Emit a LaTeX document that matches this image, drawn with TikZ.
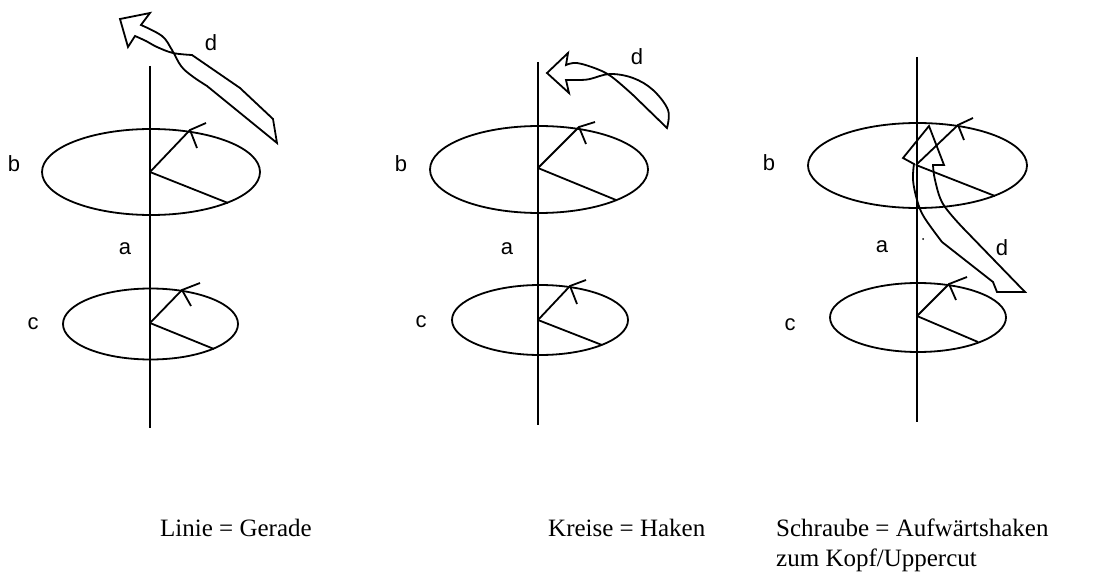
\documentclass[tikz,border=0pt]{standalone}
\usepackage{fontspec}
\setmainfont{Liberation Serif}
\newfontfamily\labelfont{Liberation Sans}
\begin{document}
\begin{tikzpicture}[x=1pt,y=-1pt,
  stroke/.style={line width=1.8pt,line join=miter},
  lbl/.style={font=\labelfont\fontsize{22}{26}\selectfont,inner sep=0pt},
  captext/.style={font=\fontsize{25}{31}\selectfont,inner sep=0pt,anchor=base west}]
\useasboundingbox (0,0) rectangle (1116,572);

% ---------------- Panel 1 ----------------
\coordinate (p1top) at (150,66);
\coordinate (p1bot) at (150,428);
\draw[stroke] (p1top) -- (p1bot);
\draw[stroke] (151,172) ellipse [x radius=109, y radius=43];
\coordinate (p1bc) at (150,172);
\coordinate (p1bu) at (190,130);
\draw[stroke] (p1bc) -- (p1bu) -- (206,123);
\draw[stroke] (p1bu) -- (197,148);
\draw[stroke] (p1bc) -- (228,203);
\draw[stroke] (150.5,324) ellipse [x radius=87.5, y radius=35.5];
\coordinate (p1cc) at (150,323);
\coordinate (p1cu) at (182,290);
\draw[stroke] (p1cc) -- (p1cu) -- (200,283);
\draw[stroke] (p1cu) -- (191,306);
\draw[stroke] (p1cc) -- (214,349);
\draw[stroke] (120,19) -- (150,13) -- (141,25)
  -- plot[smooth,tension=0.6] coordinates {(141,25) (162,36) (172,50) (181,66) (192,76) (207,86)}
  -- (277,143) -- (273,119) -- (240,88) -- (192,55)
  -- plot[smooth,tension=0.6] coordinates {(192,55) (173,53) (157,47) (146,41) (135,36)}
  -- (128,47) -- cycle;
\node[lbl] (b1) at (14,164) {b};
\node[lbl] (a1) at (125,249) {a};
\node[lbl] (c1) at (33,324) {c};
\node[lbl] (d1) at (211,43) {d};

% ---------------- Panel 2 ----------------
\coordinate (p2top) at (538,62);
\coordinate (p2bot) at (538,425);
\draw[stroke] (p2top) -- (p2bot);
\draw[stroke] (539,169.5) ellipse [x radius=109, y radius=43.5];
\coordinate (p2bc) at (538,168);
\coordinate (p2bu) at (579,127);
\draw[stroke] (p2bc) -- (p2bu) -- (595,122);
\draw[stroke] (p2bu) -- (586,144);
\draw[stroke] (p2bc) -- (616,200);
\draw[stroke] (540,320) ellipse [x radius=88, y radius=35];
\coordinate (p2cc) at (538,320);
\coordinate (p2cu) at (570,286);
\draw[stroke] (p2cc) -- (p2cu) -- (586,280);
\draw[stroke] (p2cu) -- (577,304);
\draw[stroke] (p2cc) -- (602,345);
\draw[stroke] (547,73) -- (568,53) -- (566,65)
  -- plot[smooth,tension=0.6] coordinates {(566,65) (577,63) (597,69) (612,77) (633,95)}
  -- (667,128)
  -- plot[smooth,tension=0.6] coordinates {(667,128) (668,110) (653,90) (633,78) (610,74) (590,79) (580,80) (566,80)}
  -- (569,93) -- cycle;
\node[lbl] (b2) at (401,164) {b};
\node[lbl] (a2) at (507,249) {a};
\node[lbl] (c2) at (421,322) {c};
\node[lbl] (d2) at (637,57) {d};

% ---------------- Panel 3 ----------------
\coordinate (p3top) at (917,57);
\coordinate (p3bot) at (917,422);
\draw[stroke] (p3top) -- (p3bot);
\draw[stroke] (917.5,165.5) ellipse [x radius=109.5, y radius=42.5];
\coordinate (p3bc) at (916,165);
\coordinate (p3bu) at (958,125);
\draw[stroke] (p3bc) -- (p3bu) -- (973,118);
\draw[stroke] (p3bu) -- (964,140);
\draw[stroke] (p3bc) -- (995,196);
\draw[stroke] (918,317.5) ellipse [x radius=88, y radius=34.5];
\coordinate (p3cc) at (917,316);
\coordinate (p3cu) at (949,284);
\draw[stroke] (p3cc) -- (p3cu) -- (967,277);
\draw[stroke] (p3cu) -- (956,300);
\draw[stroke] (p3cc) -- (978,342);
\draw[stroke] (929,126) -- (903,158) -- (914,164)
  -- plot[smooth,tension=0.6] coordinates {(914,164) (913,180) (917,200) (924,217) (942,242)}
  -- (993,282) -- (997,292) -- (1025,292) -- (963,228)
  -- plot[smooth,tension=0.6] coordinates {(963,228) (943,204) (935,180) (933,165)}
  -- (944,165) -- cycle;
\fill (923,239) circle [radius=1pt];
\node[lbl] (b3) at (769,163) {b};
\node[lbl] (a3) at (882,247) {a};
\node[lbl] (c3) at (790,325) {c};
\node[lbl] (d3) at (1002,248) {d};

% ---------------- Captions ----------------
\node[captext] (t1) at (160,536) {Linie = Gerade};
\node[captext] (t2) at (548,536) {Kreise = Haken};
\node[captext] (t3) at (776,536) {Schraube = Aufwärtshaken};
\node[captext] (t4) at (776,566) {zum Kopf/Uppercut};
\end{tikzpicture}
\end{document}
